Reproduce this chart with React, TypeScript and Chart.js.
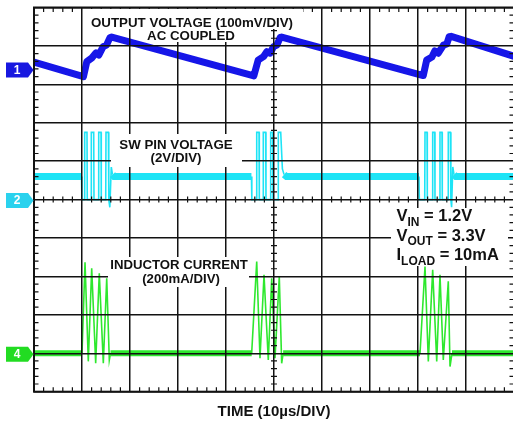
import React, { useEffect, useRef } from "react";
import { Chart, registerables } from "chart.js";

Chart.register(...registerables);

// Time base: 10 divisions of 10 µs
const TIME_MIN = 0;
const TIME_MAX = 100;
const TIME_PER_DIV = 10;
// Vertical graticule: 10 divisions, centre line at 0
const DIV_MIN = -5;
const DIV_MAX = 5;

// Channel 1 – output voltage ripple, AC coupled (mV), 100 mV/div, ref +3.4 div
const CH1_PER_DIV = 100;
const CH1_REF_DIV = 3.4;
const voutTime = [0, 10.3, 11.0, 12.0, 12.9, 13.5, 14.4, 15.1, 15.8, 16.2, 45.8, 46.7, 47.8, 48.5, 49.2, 49.9, 50.6, 51.3, 51.6, 81.1, 81.8, 82.9, 83.5, 84.2, 85.3, 86.0, 86.5, 86.9, 100];
const voutMv = [18, -20, 19, 28, 42, 36, 58, 62, 81, 83, -18, 23, 32, 45, 41, 58, 62, 82, 83, -17, 23, 31, 47, 41, 62, 65, 84, 85, 33];

// Channel 2 – SW pin voltage (V), 2 V/div, ref at centre
const CH2_PER_DIV = 2;
const CH2_REF_DIV = 0;
const swTime = [
  0, 9.9, 9.98, 10.5, 10.56, 11.04, 11.1, 11.88, 11.94, 12.44, 12.5, 13.42, 13.48, 13.96, 14.02, 14.94, 15.0, 15.5, 15.58, 15.8, 16.1, 16.35, 16.7,
  45.3, 45.38, 46.34, 46.4, 46.88, 46.94, 47.71, 47.77, 48.27, 48.33, 49.25, 49.31, 49.73, 49.79, 50.84, 50.9, 51.4, 51.75, 52.1, 52.6,
  80.2, 80.28, 81.4, 81.46, 81.88, 81.94, 83.0, 83.06, 83.48, 83.54, 84.52, 84.58, 85.0, 85.06, 86.25, 86.31, 86.75, 86.85, 87.0, 87.25, 87.5, 87.9, 100,
];
const swVolts = [
  1.2, 1.2, 0, 0, 3.5, 3.5, 0, 0, 3.5, 3.5, 0, 0, 3.5, 3.5, 0, 0, 3.5, 3.5, 0, -0.4, 1.7, 1.3, 1.2,
  1.2, 0, 0, 3.5, 3.5, 0, 0, 3.5, 3.5, 0, 0, 3.5, 3.5, 0, 0, 3.5, 3.5, 1.6, 1.3, 1.2,
  1.2, 0, 0, 3.5, 3.5, 0, 0, 3.5, 3.5, 0, 0, 3.5, 3.5, 0, 0, 3.5, 3.5, 0, -0.4, 1.7, 1.3, 1.2, 1.2,
];
const SW_IDLE = 1.2;

// Channel 4 – inductor current (mA), 200 mA/div, ref −4 div
const CH4_PER_DIV = 200;
const CH4_REF_DIV = -4;
const ilTime = [
  0, 10.0, 10.63, 11.31, 12.02, 12.85, 13.6, 14.44, 15.15, 15.69, 15.94,
  45.35, 46.4, 47.08, 47.92, 48.81, 49.52, 50.21, 51.1, 51.6, 51.9,
  80.42, 81.46, 82.15, 83.06, 83.9, 84.58, 85.27, 86.31, 86.67, 87.08, 100,
];
const ilMa = [
  0, 0, 474, -42, 443, -52, 416, -52, 390, -35, 0,
  0, 477, -26, 408, -35, 390, -26, 399, -52, 0,
  0, 451, -43, 434, -43, 408, -35, 375, -69, 0, 0,
];

// Text on the screen
const ch1Label = ["OUTPUT VOLTAGE (100mV/DIV)", "AC COUPLED"];
const ch2Label = ["SW PIN VOLTAGE", "(2V/DIV)"];
const ch4Label = ["INDUCTOR CURRENT", "(200mA/DIV)"];
const conditions = [
  ["V", "IN", " = 1.2V"],
  ["V", "OUT", " = 3.3V"],
  ["I", "LOAD", " = 10mA"],
];
const timeTitle = "TIME (10µs/DIV)";

const CH1_COLOR = "#1616e8";
const CH2_COLOR = "#1ee4f6";
const CH4_COLOR = "#2ee82e";
const CH1_TAG = "#1818e0";
const CH2_TAG = "#2ad2ee";
const CH4_TAG = "#22dc22";
const GRID_COLOR = "#121212";
const FONT = '"Liberation Sans", Arial, Helvetica, sans-serif';

const toPoints = (xs: number[], ys: number[]) => xs.map((x, i) => ({ x, y: ys[i] }));

const axisFor = (perDiv: number, refDiv: number) => ({
  type: "linear" as const,
  display: false,
  min: (DIV_MIN - refDiv) * perDiv,
  max: (DIV_MAX - refDiv) * perDiv,
});

function drawTag(ctx: CanvasRenderingContext2D, yc: number, color: string, text: string) {
  const x0 = 6, x1 = 28, tip = 33.5, h = 7.5;
  ctx.fillStyle = color;
  ctx.beginPath();
  ctx.moveTo(x0, yc - h);
  ctx.lineTo(x1, yc - h);
  ctx.lineTo(tip, yc);
  ctx.lineTo(x1, yc + h);
  ctx.lineTo(x0, yc + h);
  ctx.closePath();
  ctx.fill();
  ctx.fillStyle = "#ffffff";
  ctx.font = `bold 12px ${FONT}`;
  ctx.textAlign = "center";
  ctx.textBaseline = "middle";
  ctx.fillText(text, 17, yc + 0.5);
}

const scopeOverlay = {
  id: "scopeOverlay",
  afterDraw(chart: any) {
    const ctx: CanvasRenderingContext2D = chart.ctx;
    const xs = chart.scales.x;
    const ys = chart.scales.y;
    const L = xs.getPixelForValue(TIME_MIN);
    const R = xs.getPixelForValue(TIME_MAX);
    const T = ys.getPixelForValue(DIV_MAX);
    const B = ys.getPixelForValue(DIV_MIN);
    const xc = xs.getPixelForValue((TIME_MIN + TIME_MAX) / 2);
    const yc = ys.getPixelForValue(0);
    ctx.save();

    // minor ticks (5 per division) on the frame and the centre cross
    ctx.strokeStyle = GRID_COLOR;
    ctx.lineWidth = 1.2;
    ctx.beginPath();
    const minorX = TIME_PER_DIV / 5;
    for (let i = 1; i < (TIME_MAX - TIME_MIN) / minorX; i++) {
      if (i % 5 === 0) continue;
      const px = xs.getPixelForValue(TIME_MIN + i * minorX);
      ctx.moveTo(px, T); ctx.lineTo(px, T + 4.5);
      ctx.moveTo(px, B); ctx.lineTo(px, B - 4.5);
      ctx.moveTo(px, yc - 3); ctx.lineTo(px, yc + 3);
    }
    for (let i = 1; i < (DIV_MAX - DIV_MIN) * 5; i++) {
      if (i % 5 === 0) continue;
      const py = ys.getPixelForValue(DIV_MIN + i / 5);
      ctx.moveTo(L, py); ctx.lineTo(L + 4.5, py);
      ctx.moveTo(R, py); ctx.lineTo(R - 4.5, py);
      ctx.moveTo(xc - 3, py); ctx.lineTo(xc + 3, py);
    }
    ctx.stroke();

    // frame
    ctx.lineWidth = 2;
    ctx.strokeRect(L, T, R - L, B - T);

    // white label panels
    ctx.fillStyle = "#ffffff";
    ctx.fillRect(86, 9, 217, 20);
    ctx.fillRect(143, 28, 97, 14);
    ctx.fillRect(111, 134, 131, 33);
    ctx.fillRect(108, 257, 141, 30);
    ctx.fillRect(391, 208, 117, 58);

    // labels
    ctx.fillStyle = "#111111";
    ctx.textAlign = "center";
    ctx.textBaseline = "alphabetic";
    ctx.font = `bold 13.3px ${FONT}`;
    ctx.fillText(ch1Label[0], 192, 26.7);
    ctx.fillText(ch1Label[1], 191, 40);
    ctx.fillText(ch2Label[0], 176, 149.3);
    ctx.fillText(ch2Label[1], 176, 161.5);
    ctx.font = `bold 13.2px ${FONT}`;
    ctx.fillText(ch4Label[0], 179, 269.3);
    ctx.fillText(ch4Label[1], 181, 282.5);

    // operating conditions with subscripts
    ctx.textAlign = "left";
    conditions.forEach((row, i) => {
      const base = 221 + i * 19.6;
      let x = 396.5;
      ctx.font = `bold 16.5px ${FONT}`;
      ctx.fillText(row[0], x, base);
      x += ctx.measureText(row[0]).width;
      ctx.font = `bold 12px ${FONT}`;
      ctx.fillText(row[1], x, base + 4.5);
      x += ctx.measureText(row[1]).width;
      ctx.font = `bold 16.5px ${FONT}`;
      ctx.fillText(row[2], x, base);
    });

    // time axis title
    ctx.textAlign = "center";
    ctx.font = `bold 15px ${FONT}`;
    ctx.fillText(timeTitle, xc, 416);

    // channel reference tags
    drawTag(ctx, chart.scales.yCh1.getPixelForValue(0) + 1, CH1_TAG, "1");
    drawTag(ctx, chart.scales.yCh2.getPixelForValue(0) + 1, CH2_TAG, "2");
    drawTag(ctx, chart.scales.yCh4.getPixelForValue(0) + 1, CH4_TAG, "4");

    ctx.restore();
  },
};

export default function App() {
  const canvasRef = useRef<HTMLCanvasElement>(null);

  useEffect(() => {
    const canvas = canvasRef.current;
    if (!canvas) return;
    const gridOpts = { color: GRID_COLOR, lineWidth: 1.5, drawTicks: false, z: 1 };
    const chart = new Chart(canvas, {
      type: "line",
      data: {
        datasets: [
          {
            label: "Output voltage",
            data: toPoints(voutTime, voutMv),
            yAxisID: "yCh1",
            borderColor: CH1_COLOR,
            borderWidth: 7,
            borderJoinStyle: "round",
            pointRadius: 0,
            tension: 0,
          },
          {
            label: "SW pin voltage",
            data: toPoints(swTime, swVolts),
            yAxisID: "yCh2",
            borderColor: CH2_COLOR,
            borderWidth: 1.6,
            pointRadius: 0,
            tension: 0,
            segment: {
              borderWidth: (c: any) =>
                Math.abs(c.p0.parsed.y - SW_IDLE) < 0.15 && Math.abs(c.p1.parsed.y - SW_IDLE) < 0.15 ? 7 : undefined,
            },
          },
          {
            label: "Inductor current",
            data: toPoints(ilTime, ilMa),
            yAxisID: "yCh4",
            borderColor: CH4_COLOR,
            borderWidth: 1.6,
            pointRadius: 0,
            tension: 0,
            segment: {
              borderWidth: (c: any) =>
                Math.abs(c.p0.parsed.y) < 5 && Math.abs(c.p1.parsed.y) < 5 ? 6 : undefined,
            },
          },
        ],
      },
      options: {
        animation: false,
        responsive: false,
        events: [],
        layout: { padding: { left: 34, right: 6, top: 7.5, bottom: 31.3 } },
        plugins: { legend: { display: false }, tooltip: { enabled: false } },
        scales: {
          x: {
            type: "linear",
            min: TIME_MIN,
            max: TIME_MAX,
            ticks: { display: false, stepSize: TIME_PER_DIV },
            grid: gridOpts,
            border: { display: false },
          },
          y: {
            type: "linear",
            min: DIV_MIN,
            max: DIV_MAX,
            ticks: { display: false, stepSize: 1 },
            grid: gridOpts,
            border: { display: false },
          },
          yCh1: axisFor(CH1_PER_DIV, CH1_REF_DIV),
          yCh2: axisFor(CH2_PER_DIV, CH2_REF_DIV),
          yCh4: axisFor(CH4_PER_DIV, CH4_REF_DIV),
        },
      } as any,
      plugins: [scopeOverlay],
    });
    return () => chart.destroy();
  }, []);

  return (
    <div
      style={{
        position: "fixed",
        left: 0,
        top: 0,
        width: 513,
        height: 423,
        overflow: "hidden",
        background: "#ffffff",
      }}
    >
      <canvas ref={canvasRef} width={520} height={423} style={{ display: "block", width: 520, height: 423 }} />
    </div>
  );
}
